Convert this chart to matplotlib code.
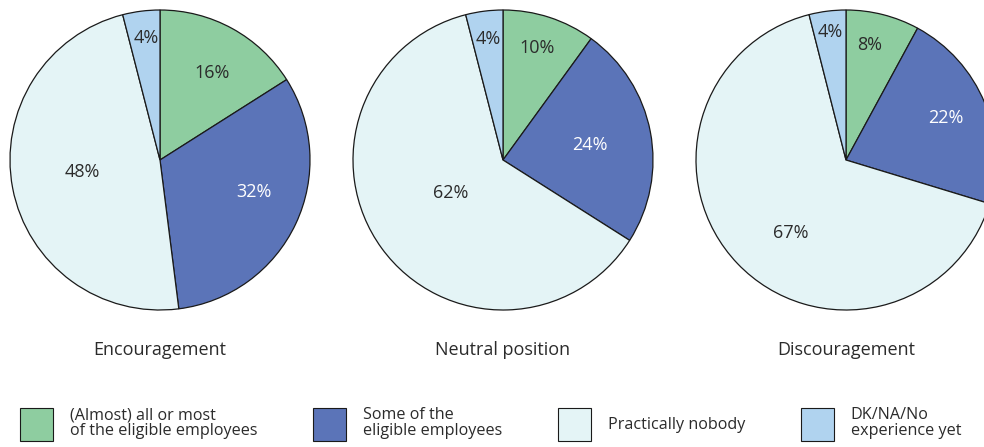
import numpy as np
import matplotlib
matplotlib.use("Agg")
import matplotlib.pyplot as plt
from matplotlib.patches import Patch

# ---- data ----
titles = ["Encouragement", "Neutral position", "Discouragement"]
categories = ["(Almost) all or most\nof the eligible employees",
              "Some of the\neligible employees",
              "Practically nobody",
              "DK/NA/No\nexperience yet"]
encouragement = [16, 32, 48, 4]
neutral = [10, 24, 62, 4]
discouragement = [8, 22, 67, 4]
series = [encouragement, neutral, discouragement]

colors = ["#8ecda0", "#5b74b8", "#e4f4f6", "#b0d3ef"]
text_colors = ["#2b2b2b", "white", "#2b2b2b", "#2b2b2b"]
# label placement: radial distance (fraction of radius) and angle shift (deg)
label_dist = [[0.675, 0.66, 0.525, 0.82],
              [0.78, 0.59, 0.415, 0.81],
              [0.78, 0.72, 0.61, 0.86]]
label_shift = [[-2, 6.4, -2, -1],
               [1, -1, -4, 0],
               [2.5, 0.7, 8.8, 0]]

plt.rcParams['font.family'] = ['Open Sans', 'DejaVu Sans']

W, H = 984, 447
fig = plt.figure(figsize=(W / 100, H / 100), dpi=100)
ax = fig.add_axes([0, 0, 1, 1])

centers_x = [160, 503, 846]
cy = H - 160
R = 150
for i, vals in enumerate(series):
    wedges, _ = ax.pie(vals, colors=colors, startangle=90, counterclock=False,
                       center=(centers_x[i], cy), radius=R, frame=True,
                       wedgeprops=dict(edgecolor="#1a1a1a", linewidth=0.9))
    for j, w in enumerate(wedges):
        ang = np.deg2rad((w.theta1 + w.theta2) / 2 + label_shift[i][j])
        d = label_dist[i][j] * R
        ax.text(centers_x[i] + d * np.cos(ang), cy + d * np.sin(ang),
                f"{vals[j]}%", ha='center', va='center', fontsize=13,
                color=text_colors[j])
    ax.text(centers_x[i], H - 350, titles[i], ha='center', va='center',
            fontsize=13, color="#2b2b2b")

ax.set_xlim(0, W)
ax.set_ylim(0, H)
ax.set_aspect('equal')
ax.axis('off')

handles = [Patch(facecolor=c, edgecolor="#1a1a1a", linewidth=0.8) for c in colors]
leg = ax.legend(handles, categories, loc='center left', ncol=4,
                bbox_to_anchor=(20 / W, (H - 424) / H), bbox_transform=fig.transFigure,
                frameon=False, fontsize=11.6, handlelength=2.05, handleheight=2.75,
                handletextpad=1.05, columnspacing=3.45, labelspacing=0.2,
                borderpad=0, borderaxespad=0)
for t in leg.get_texts():
    t.set_color("#2b2b2b")
    t.set_linespacing(1.0)

fig.savefig("out.png", dpi=100)
